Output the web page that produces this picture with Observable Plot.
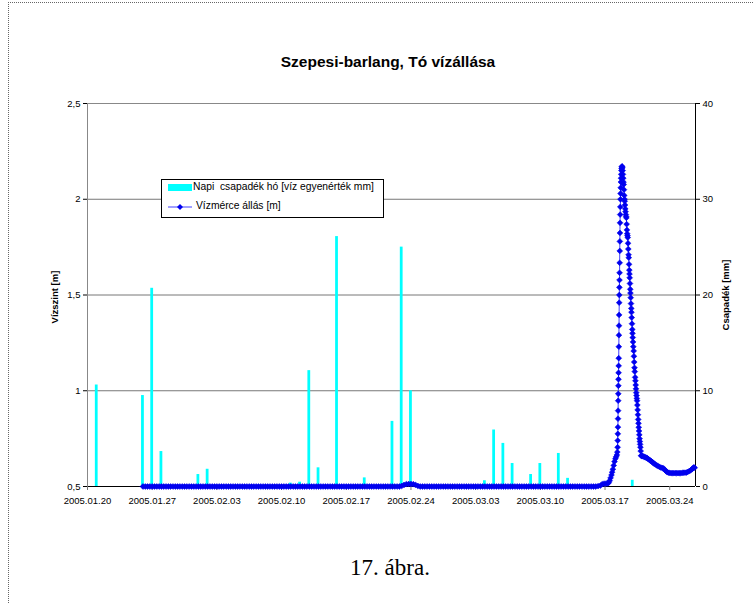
<!DOCTYPE html>
<html>
<head>
<meta charset="utf-8">
<script src="https://cdn.jsdelivr.net/npm/d3@7"></script>
<script src="https://cdn.jsdelivr.net/npm/@observablehq/plot@0.6"></script>
<style>
  body { margin: 0; background: #fff; }
  #wrap { position: relative; width: 754px; height: 603px; overflow: hidden; background: #fff;
          font-family: "Liberation Sans", Arial, sans-serif; color: #000; }
  #chart { position: absolute; left: 0; top: 0; }
  .frame { position: absolute; left: 8px; top: 2px; width: 800px; height: 700px;
           border-top: 1px dotted #666; border-left: 1px dotted #666; }
  .abs { position: absolute; white-space: pre; transform: translate(-50%, -50%); }
  .title { left: 388px; top: 62px; font-weight: bold; font-size: 15.5px; }
  .ylab { left: 54px; top: 297px; font-weight: bold; font-size: 9.5px; transform: translate(-50%, -50%) rotate(-90deg); }
  .ylab2 { left: 725px; top: 295px; font-weight: bold; font-size: 9.5px; transform: translate(-50%, -50%) rotate(-90deg); }
  .caption { left: 390px; top: 568px; font-family: "Liberation Serif", "Times New Roman", serif; font-size: 23px; }
  .legend { position: absolute; left: 161px; top: 179px; width: 221px; height: 37px;
            border: 1px solid #000; background: #fff; font-size: 10.3px; }
  .legend .sw { position: absolute; left: 6px; top: 4px; width: 24px; height: 7px; background: #00ffff; }
  .legend .t1 { position: absolute; left: 31px; top: 1px; white-space: pre; }
  .legend .t2 { position: absolute; left: 34px; top: 20px; white-space: pre; }
  .legend svg { position: absolute; left: 6px; top: 22px; }
</style>
</head>
<body>
<div id="wrap">
  <div class="frame"></div>
  <div id="chart"></div>
  <div class="abs title">Szepesi-barlang, Tó vízállása</div>
  <div class="abs ylab">Vízszint [m]</div>
  <div class="abs ylab2">Csapadék [mm]</div>
  <div class="legend">
    <div class="sw"></div>
    <div class="t1">Napi  csapadék hó [víz egyenérték mm]</div>
    <svg width="26" height="10"><line x1="0" y1="5" x2="24" y2="5" stroke="#4040ff" stroke-width="1"/><path d="M12,2 L15,5 L12,8 L9,5 Z" fill="#0000ee"/></svg>
    <div class="t2">Vízmérce állás [m]</div>
  </div>
  <div class="abs caption">17. ábra.</div>
</div>
<script>
// Day offsets are days after 2005-01-20 (00:00).
const axisStart = "2005-01-20";
const axisEndDay = 65.79;

// x-axis tick labels (weekly)
const tickLabels = ["2005.01.20","2005.01.27","2005.02.03","2005.02.10","2005.02.17",
                    "2005.02.24","2005.03.03","2005.03.10","2005.03.17","2005.03.24"];

// Daily precipitation (snow water equivalent, mm)
const precipDates = ["2005-01-21","2005-01-26","2005-01-27","2005-01-28","2005-02-01","2005-02-02",
                     "2005-02-11","2005-02-12","2005-02-13","2005-02-14","2005-02-16","2005-02-19",
                     "2005-02-22","2005-02-23","2005-02-24","2005-03-04","2005-03-05","2005-03-06",
                     "2005-03-07","2005-03-09","2005-03-10","2005-03-12","2005-03-13","2005-03-20"];
const precipMm = [10.6, 9.5, 20.7, 3.65, 1.25, 1.8,
                  0.35, 0.45, 12.1, 1.95, 26.1, 0.9,
                  6.8, 25.0, 10.0, 0.6, 5.9, 4.5,
                  2.4, 1.25, 2.4, 3.45, 0.85, 0.65];

// Water gauge level [m]: [day offset, level]
const waterLevel = [
  [6,0.50],[6.25,0.50],[6.5,0.50],[6.75,0.50],[7,0.50],[7.25,0.50],[7.5,0.50],[7.75,0.50],[8,0.50],[8.25,0.50],
  [8.5,0.50],[8.75,0.50],[9,0.50],[9.25,0.50],[9.5,0.50],[9.75,0.50],[10,0.50],[10.25,0.50],[10.5,0.50],[10.75,0.50],
  [11,0.50],[11.25,0.50],[11.5,0.50],[11.75,0.50],[12,0.50],[12.25,0.50],[12.5,0.50],[12.75,0.50],[13,0.50],[13.25,0.50],
  [13.5,0.50],[13.75,0.50],[14,0.50],[14.25,0.50],[14.5,0.50],[14.75,0.50],[15,0.50],[15.25,0.50],[15.5,0.50],[15.75,0.50],
  [16,0.50],[16.25,0.50],[16.5,0.50],[16.75,0.50],[17,0.50],[17.25,0.50],[17.5,0.50],[17.75,0.50],[18,0.50],[18.25,0.50],
  [18.5,0.50],[18.75,0.50],[19,0.50],[19.25,0.50],[19.5,0.50],[19.75,0.50],[20,0.50],[20.25,0.50],[20.5,0.50],[20.75,0.50],
  [21,0.50],[21.25,0.50],[21.5,0.50],[21.75,0.50],[22,0.50],[22.25,0.50],[22.5,0.50],[22.75,0.50],[23,0.50],[23.25,0.50],
  [23.5,0.50],[23.75,0.50],[24,0.50],[24.25,0.50],[24.5,0.50],[24.75,0.50],[25,0.50],[25.25,0.50],[25.5,0.50],[25.75,0.50],
  [26,0.50],[26.25,0.50],[26.5,0.50],[26.75,0.50],[27,0.50],[27.25,0.50],[27.5,0.50],[27.75,0.50],[28,0.50],[28.25,0.50],
  [28.5,0.50],[28.75,0.50],[29,0.50],[29.25,0.50],[29.5,0.50],[29.75,0.50],[30,0.50],[30.25,0.50],[30.5,0.50],[30.75,0.50],
  [31,0.50],[31.25,0.50],[31.5,0.50],[31.75,0.50],[32,0.50],[32.25,0.50],[32.5,0.50],[32.75,0.50],[33,0.50],[33.25,0.50],
  [33.5,0.50],[33.75,0.50],[34,0.503],[34.25,0.508],[34.5,0.512],[34.75,0.513],[35,0.513],[35.25,0.512],[35.5,0.508],[35.75,0.503],
  [36,0.50],[36.25,0.50],[36.5,0.50],[36.75,0.50],[37,0.50],[37.25,0.50],[37.5,0.50],[37.75,0.50],[38,0.50],[38.25,0.50],
  [38.5,0.50],[38.75,0.50],[39,0.50],[39.25,0.50],[39.5,0.50],[39.75,0.50],[40,0.50],[40.25,0.50],[40.5,0.50],[40.75,0.50],
  [41,0.50],[41.25,0.50],[41.5,0.50],[41.75,0.50],[42,0.50],[42.25,0.50],[42.5,0.50],[42.75,0.50],[43,0.50],[43.25,0.50],
  [43.5,0.50],[43.75,0.50],[44,0.50],[44.25,0.50],[44.5,0.50],[44.75,0.50],[45,0.50],[45.25,0.50],[45.5,0.50],[45.75,0.50],
  [46,0.50],[46.25,0.50],[46.5,0.50],[46.75,0.50],[47,0.50],[47.25,0.50],[47.5,0.50],[47.75,0.50],[48,0.50],[48.25,0.50],
  [48.5,0.50],[48.75,0.50],[49,0.50],[49.25,0.50],[49.5,0.50],[49.75,0.50],[50,0.50],[50.25,0.50],[50.5,0.50],[50.75,0.50],
  [51,0.50],[51.25,0.50],[51.5,0.50],[51.75,0.50],[52,0.50],[52.25,0.50],[52.5,0.50],[52.75,0.50],[53,0.50],[53.25,0.50],
  [53.5,0.50],[53.75,0.50],[54,0.50],[54.25,0.50],[54.5,0.50],[54.75,0.50],[55,0.50],[55.25,0.502],[55.5,0.505],
  [55.7,0.512],[55.9,0.515],[56.1,0.515],[56.3,0.516],[56.4,0.52],[56.5,0.53],[56.6,0.545],[56.7,0.56],
  [56.77,0.575],[56.85,0.59],[56.94,0.61],[57.03,0.63],[57.12,0.645],[57.2,0.655],[57.28,0.665],[57.33,0.68],
  [57.36,0.705],[57.375,0.74],[57.385,0.775],[57.395,0.81],[57.405,0.854],[57.415,0.896],[57.425,0.948],
  [57.435,0.984],[57.445,1.026],[57.455,1.06],[57.465,1.094],[57.475,1.13],[57.485,1.17],[57.495,1.23],
  [57.505,1.29],[57.515,1.34],[57.525,1.396],[57.535,1.46],[57.545,1.50],[57.555,1.54],[57.565,1.578],
  [57.575,1.616],[57.585,1.668],[57.595,1.73],[57.605,1.78],[57.615,1.824],[57.625,1.877],[57.64,1.92],
  [57.655,1.96],[57.67,2.0],[57.685,2.03],[57.70,2.06],[57.715,2.09],[57.73,2.11],[57.75,2.13],[57.77,2.15],
  [57.79,2.16],[57.82,2.17],[57.85,2.172],[57.88,2.165],[57.91,2.15],[57.94,2.13],[57.97,2.11],[58.0,2.09],
  [58.02,2.077],[58.05,2.05],[58.08,2.02],[58.11,2.0],[58.13,1.99],[58.16,1.97],[58.19,1.95],[58.22,1.935],
  [58.25,1.92],[58.28,1.91],[58.31,1.903],[58.34,1.87],[58.37,1.84],[58.40,1.82],[58.43,1.81],[58.46,1.80],
  [58.49,1.77],[58.52,1.74],[58.55,1.71],[58.57,1.695],[58.6,1.66],[58.63,1.63],[58.65,1.61],[58.67,1.59],
  [58.7,1.56],[58.73,1.53],[58.75,1.51],[58.78,1.486],[58.81,1.455],[58.84,1.43],[58.86,1.41],[58.89,1.382],
  [58.92,1.35],[58.95,1.32],[58.97,1.30],[59.0,1.278],[59.03,1.255],[59.06,1.23],[59.1,1.208],[59.13,1.18],
  [59.16,1.15],[59.19,1.12],[59.22,1.1],[59.26,1.07],[59.29,1.052],[59.32,1.03],[59.35,1.01],[59.38,0.99],
  [59.41,0.975],[59.44,0.96],[59.47,0.948],[59.5,0.925],[59.53,0.9],[59.56,0.875],[59.59,0.85],[59.62,0.83],
  [59.65,0.809],[59.68,0.79],[59.71,0.77],[59.74,0.75],[59.77,0.735],[59.8,0.72],[59.83,0.705],[59.86,0.685],
  [59.9,0.661],[59.95,0.66],[60.0,0.66],[60.1,0.658],[60.2,0.656],[60.3,0.653],[60.4,0.652],[60.5,0.65],
  [60.6,0.647],[60.7,0.643],[60.8,0.639],[60.9,0.635],[61.0,0.632],[61.1,0.628],[61.2,0.624],[61.3,0.62],
  [61.45,0.615],[61.6,0.61],[61.75,0.606],[61.9,0.602],[62.05,0.599],[62.2,0.597],[62.35,0.594],[62.5,0.586],
  [62.6,0.58],[62.72,0.575],[62.85,0.572],[63.0,0.571],[63.15,0.57],[63.3,0.57],[63.45,0.57],[63.6,0.57],
  [63.75,0.57],[63.9,0.57],[64.05,0.57],[64.2,0.57],[64.35,0.571],[64.5,0.572],[64.65,0.572],[64.8,0.573],
  [64.95,0.576],[65.1,0.58],[65.25,0.584],[65.4,0.59],[65.5,0.595],[65.6,0.60],[65.7,0.598]
];

// Axis ticks
const levelTicks = [0.5, 1, 1.5, 2, 2.5];
const gridLevels = [1, 1.5, 2];

const DAY = 864e5;
const t0 = Date.parse(axisStart + "T00:00:00Z");
const toDate = (day) => new Date(t0 + day * DAY);
const parseTick = (s) => new Date(Date.parse(s.replace(/\./g, "-") + "T00:00:00Z"));

const precip = precipDates.map((d, i) => ({date: new Date(Date.parse(d + "T00:00:00Z")), mm: precipMm[i]}));
const levels = waterLevel.map(([d, m]) => ({date: toDate(d), m}));
const ticks = tickLabels.map(parseTick);
const fmt = d3.utcFormat("%Y.%m.%d");

// right axis (0–40 mm) mapped onto the left axis (0.5–2.5 m)
const mmToLevel = (mm) => 0.5 + mm / 20;
const levelToMm = (v) => Math.round((v - 0.5) * 20);

const chart = Plot.plot({
  width: 754,
  height: 603,
  marginLeft: 87,
  marginRight: 59,
  marginTop: 103,
  marginBottom: 117,
  style: {fontFamily: "'Liberation Sans', Arial, sans-serif", fontSize: "9.5px", background: "transparent", color: "#000", overflow: "visible"},
  x: {type: "utc", domain: [toDate(0), toDate(axisEndDay)]},
  y: {domain: [0.5, 2.5]},
  marks: [
    Plot.ruleY(gridLevels, {stroke: "#777", strokeWidth: 1}),
    Plot.ruleY([2.5], {stroke: "#888", strokeWidth: 1}),
    Plot.rectY(precip, {
      x1: d => new Date(+d.date - 0.15 * DAY),
      x2: d => new Date(+d.date + 0.15 * DAY),
      y1: 0.5,
      y2: d => mmToLevel(d.mm),
      fill: "#00ffff"
    }),
    Plot.ruleX([toDate(0)], {stroke: "#888", strokeWidth: 1}),
    Plot.ruleX([toDate(axisEndDay)], {stroke: "#000", strokeWidth: 1}),
    Plot.ruleY([0.5], {stroke: "#000", strokeWidth: 1}),
    Plot.axisX({ticks, tickFormat: fmt, tickSize: 4, tickPadding: 7, label: null, stroke: "#777"}),
    Plot.axisY({anchor: "left", ticks: levelTicks, tickFormat: v => String(v).replace(".", ","), tickSize: 4, tickPadding: 3, label: null}),
    Plot.axisY({anchor: "right", ticks: levelTicks, tickFormat: levelToMm, tickSize: 4, tickPadding: 3, label: null}),
    Plot.line(levels, {x: "date", y: "m", stroke: "#4040ff", strokeWidth: 1}),
    Plot.dot(levels, {x: "date", y: "m", symbol: "diamond2", r: 2.6, fill: "#0000ee", stroke: "#0000ee", strokeWidth: 0.6})
  ]
});
document.getElementById("chart").appendChild(chart);
</script>
</body>
</html>
